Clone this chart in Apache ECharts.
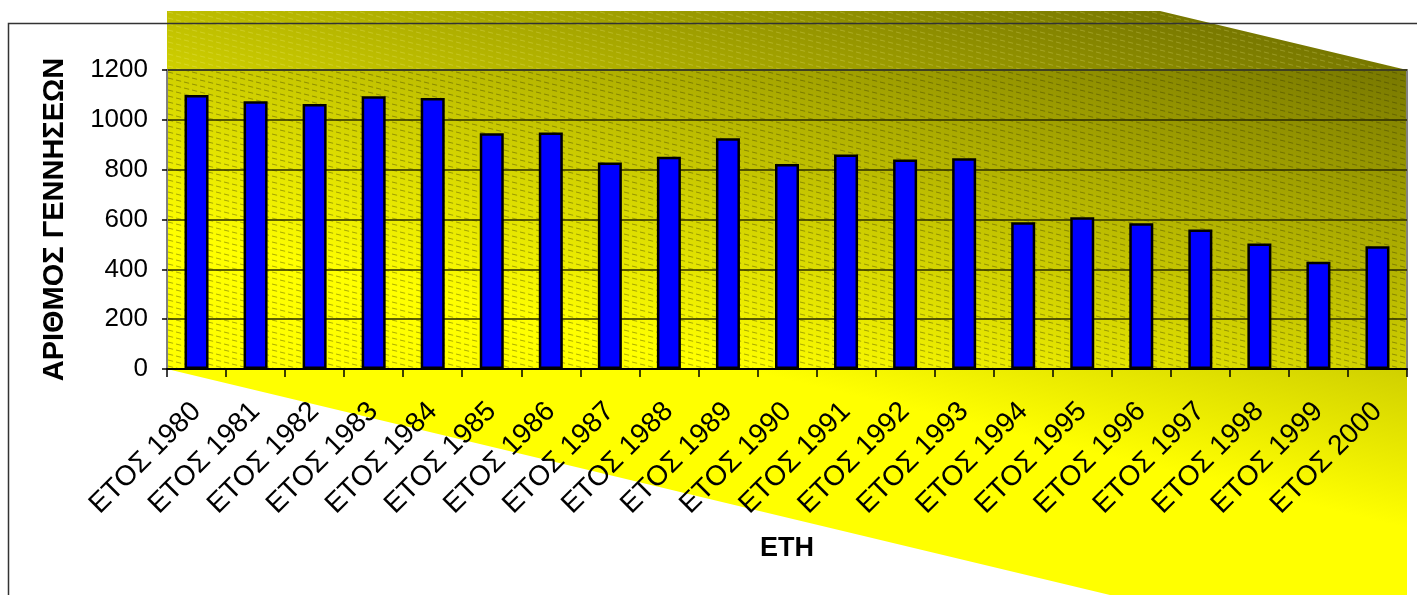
<!DOCTYPE html>
<html>
<head>
<meta charset="utf-8">
<style>
  html, body { margin: 0; padding: 0; background: #fff; }
  #births { width: 1417px; height: 595px; }
</style>
<script src="https://cdn.jsdelivr.net/npm/echarts@6/dist/echarts.min.js"></script>
</head>
<body>
<div id="births"></div>
<script>
// data
var years = ['ΕΤΟΣ 1980', 'ΕΤΟΣ 1981', 'ΕΤΟΣ 1982', 'ΕΤΟΣ 1983', 'ΕΤΟΣ 1984', 'ΕΤΟΣ 1985', 'ΕΤΟΣ 1986',
  'ΕΤΟΣ 1987', 'ΕΤΟΣ 1988', 'ΕΤΟΣ 1989', 'ΕΤΟΣ 1990', 'ΕΤΟΣ 1991', 'ΕΤΟΣ 1992', 'ΕΤΟΣ 1993',
  'ΕΤΟΣ 1994', 'ΕΤΟΣ 1995', 'ΕΤΟΣ 1996', 'ΕΤΟΣ 1997', 'ΕΤΟΣ 1998', 'ΕΤΟΣ 1999', 'ΕΤΟΣ 2000'];
var births = [1100, 1075, 1064, 1095, 1088, 946, 949, 829, 852, 926, 823, 861, 841, 846, 589, 609, 585, 560, 504, 430, 493];
var yTicks = [0, 200, 400, 600, 800, 1000, 1200];

var birthChart = echarts.init(document.getElementById('births'));

// diagonal dashed hatch, drawn once into a small tile
function makeHatch(color) {
  var c = document.createElement('canvas');
  c.width = 24;
  c.height = 6;
  var ctx = c.getContext('2d');
  ctx.strokeStyle = color;
  ctx.lineWidth = 1;
  ctx.setLineDash([5.25, 3]);
  for (var k = -1; k <= 1; k++) {
    ctx.beginPath();
    ctx.moveTo(0, k * 6);
    ctx.lineTo(24, k * 6 + 6);
    ctx.stroke();
  }
  return c;
}

var wallFill = new echarts.graphic.LinearGradient(1407, 11, 1290, 500, [
  { offset: 0, color: '#666600' },
  { offset: 1, color: '#ffff00' }
], true);

var option = {
  animation: false,
  textStyle: { fontFamily: 'Liberation Sans, Arial, sans-serif' },
  grid: {
    left: 167,
    right: 10,
    top: 70,
    bottom: 226,
    show: true,
    borderColor: '#808080',
    borderWidth: 2,
    backgroundColor: 'transparent'
  },
  xAxis: {
    type: 'category',
    data: years,
    name: 'ΕΤΗ',
    nameLocation: 'middle',
    nameGap: 166,
    nameTextStyle: { fontSize: 27, fontWeight: 'bold', color: '#000' },
    axisLine: { lineStyle: { color: '#000', width: 2 } },
    axisTick: { show: true, length: 8, lineStyle: { color: '#000', width: 1.5 } },
    axisLabel: { interval: 0, rotate: 45, margin: 38, fontSize: 28, color: '#000' }
  },
  yAxis: {
    type: 'value',
    min: yTicks[0],
    max: yTicks[yTicks.length - 1],
    interval: 200,
    name: 'ΑΡΙΘΜΟΣ ΓΕΝΝΗΣΕΩΝ',
    nameLocation: 'middle',
    nameRotate: 90,
    nameGap: 98,
    nameTextStyle: { fontSize: 29, fontWeight: 'bold', color: '#000' },
    axisLine: { show: true, lineStyle: { color: '#808080', width: 2 } },
    axisTick: { show: true, length: 5, lineStyle: { color: '#000', width: 1.5 } },
    axisLabel: {
      margin: 19,
      fontSize: 26,
      color: '#000',
      formatter: function (v) { return String(v); }
    },
    splitLine: { lineStyle: { color: '#2a2a00', width: 1.5 } }
  },
  series: [
    {
      type: 'bar',
      data: births,
      barWidth: 24,
      itemStyle: { color: '#0000ff', borderColor: '#000', borderWidth: 2.5 }
    }
  ],
  graphic: [
    {
      // perspective wall + floor
      type: 'polygon',
      z: -20,
      silent: true,
      shape: { points: [[167, 11], [1160, 11], [1407, 70], [1407, 600], [1110, 600], [1110, 595], [167, 369]] },
      style: { fill: wallFill }
    },
    {
      type: 'polygon',
      z: -15,
      silent: true,
      shape: { points: [[167, 11], [1160, 11], [1407, 70], [167, 70]] },
      style: { fill: { image: makeHatch('rgba(255,255,160,0.22)'), repeat: 'repeat' } }
    },
    {
      type: 'rect',
      z: -15,
      silent: true,
      shape: { x: 167, y: 70, width: 1240, height: 299 },
      style: { fill: { image: makeHatch('rgba(50,50,0,0.4)'), repeat: 'repeat' } }
    },
    {
      // outer chart frame
      type: 'rect',
      z: 100,
      silent: true,
      shape: { x: 8.5, y: 23.5, width: 1430, height: 600 },
      style: { fill: 'transparent', stroke: '#333', lineWidth: 1.5 }
    }
  ]
};

birthChart.setOption(option);
</script>
</body>
</html>
